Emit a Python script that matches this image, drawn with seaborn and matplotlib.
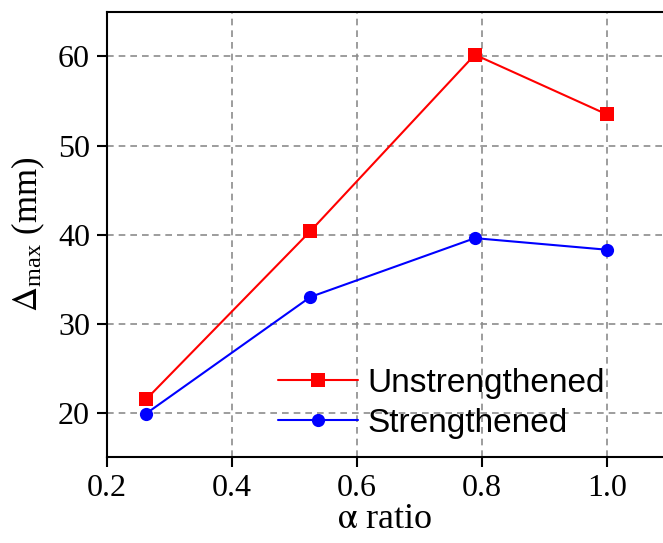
import pandas as pd
import matplotlib.pyplot as plt
import seaborn as sns

# Data
alpha = [0.263, 0.526, 0.789, 1.0]
unstrengthened = [21.5, 40.4, 60.2, 53.5]
strengthened = [19.9, 33.0, 39.6, 38.3]

df = pd.DataFrame({
    'alpha': alpha * 2,
    'delta': unstrengthened + strengthened,
    'case': ['Unstrengthened'] * 4 + ['Strengthened'] * 4,
})

sns.set_style('ticks')
plt.rcParams['font.family'] = ['Liberation Serif', 'DejaVu Serif']
plt.rcParams['mathtext.fontset'] = 'stix'
plt.rcParams['text.color'] = 'black'
plt.rcParams['axes.labelcolor'] = 'black'

fig = plt.figure(figsize=(6.63, 5.43), dpi=100)
ax = fig.add_axes([0.161, 0.158, 0.839, 0.820])

sns.lineplot(data=df, x='alpha', y='delta', hue='case', style='case',
             palette={'Unstrengthened': 'red', 'Strengthened': 'blue'},
             markers={'Unstrengthened': 's', 'Strengthened': 'o'},
             dashes=False, markersize=9.5, markeredgewidth=0, linewidth=1.5,
             ax=ax)

ax.set_xlim(0.2, 1.09)
ax.set_ylim(15, 65)
ax.set_xticks([0.2, 0.4, 0.6, 0.8, 1.0])
ax.set_xticklabels(['0.2', '0.4', '0.6', '0.8', '1.0'])
ax.set_yticks([20, 30, 40, 50, 60])
ax.grid(True, color='#8c8c8c', linestyle=(0, (4, 3)), linewidth=1.2)
ax.set_axisbelow(True)

ax.spines['right'].set_visible(False)
for side in ['left', 'bottom', 'top']:
    ax.spines[side].set_linewidth(1.5)
    ax.spines[side].set_color('black')

ax.tick_params(axis='both', direction='out', length=7, width=1.5,
               labelsize=23, colors='black', pad=5)

ax.set_xlabel(r'$\mathrm{\alpha}$ ratio', fontsize=26, labelpad=0)
ax.set_ylabel(r'$\Delta_{\mathregular{max}}$ (mm)', fontsize=25, labelpad=8)

leg = ax.legend(loc='lower right', bbox_to_anchor=(0.926, 0.004),
                frameon=False, borderpad=0, handlelength=2.4,
                handletextpad=0.3, labelspacing=0.26,
                prop={'family': 'Liberation Sans', 'size': 24})
for t in leg.get_texts():
    t.set_color('black')

fig.savefig('out.png', dpi=100)
